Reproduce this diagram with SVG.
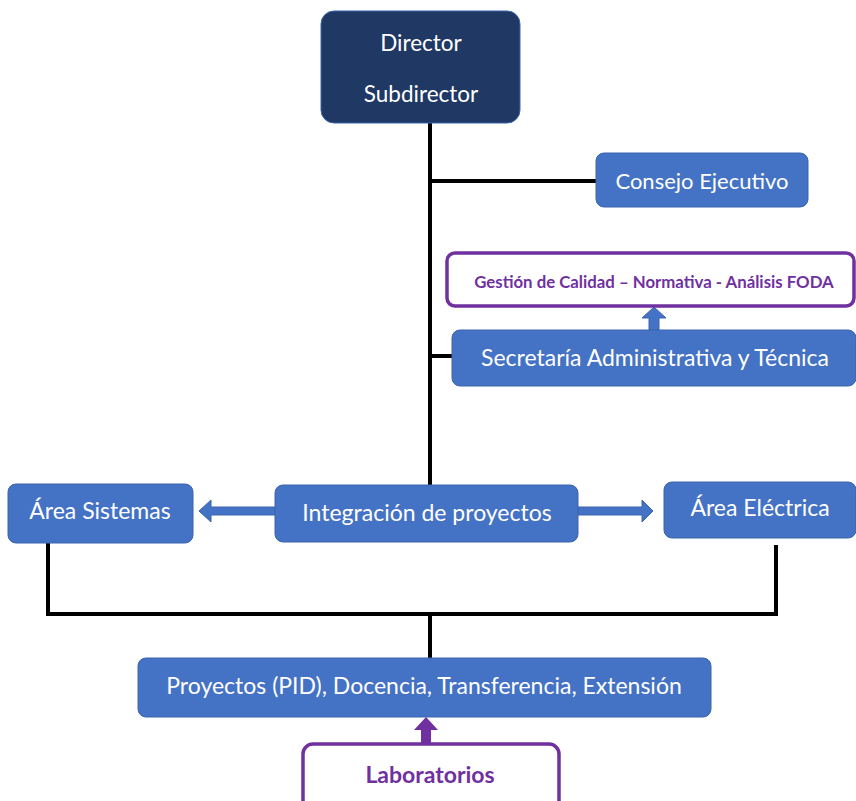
<svg xmlns="http://www.w3.org/2000/svg" width="856" height="801" viewBox="0 0 856 801">
<defs>
<style>
.box{fill:#4472C4;stroke:#3B64AD;stroke-width:1}
.dark{fill:#1F3864;stroke:#3B64AD;stroke-width:1}
.pbox{fill:#FFFFFF;stroke:#7030A0;stroke-width:3.5}
.t{font-family:Lato,"Open Sans",sans-serif;fill:#FFFFFF;text-anchor:middle;dominant-baseline:central;font-size:23px}
.pt{font-family:Lato,"Open Sans",sans-serif;fill:#7030A0;font-weight:bold;text-anchor:middle;dominant-baseline:central}
.ln{fill:none;stroke:#000000;stroke-width:4}
.barrow{fill:#4472C4;stroke:#3B64AD;stroke-width:1}
.parrow{fill:#7030A0}
</style>
</defs>
<rect width="856" height="801" fill="#FFFFFF"/>
<g id="connectors">
<path class="ln" d="M430,123 V485"/>
<path class="ln" d="M430,181 H596"/>
<path class="ln" d="M430,356 H452"/>
<path class="ln" d="M48,543 V614 H776 V545"/>
<path class="ln" d="M430,614 V658"/>
<path class="barrow" d="M649,330 V318 H642 L654,307 L666,318 H659 V330 Z"/>
<path class="barrow" d="M275,507 H211 V500 L199,511 L211,522 V515 H275 Z"/>
<path class="barrow" d="M578,507 H642 V500 L653,511 L642,522 V515 H578 Z"/>
<path class="parrow" d="M421,743 V730 H414 L426,717 L438,730 H431 V743 Z"/>
</g>
<g id="director">
<rect class="dark" x="321" y="11" width="199" height="112" rx="13"/>
<text class="t" x="421" y="42" style="font-size:22.5px">Director</text>
<text class="t" x="421" y="93" style="font-size:22.5px">Subdirector</text>
</g>
<g id="consejo">
<rect class="box" x="596" y="153" width="212" height="54" rx="8"/>
<text class="t" x="702" y="180" style="font-size:22px">Consejo Ejecutivo</text>
</g>
<g id="gestion">
<rect class="pbox" x="447" y="253" width="407" height="53" rx="8"/>
<text class="pt" x="654" y="281" font-size="16.8">Gestión de Calidad – Normativa - Análisis FODA</text>
</g>
<g id="secretaria">
<rect class="box" x="452" y="330" width="404" height="56" rx="8"/>
<text class="t" x="655" y="357">Secretaría Administrativa y Técnica</text>
</g>
<g id="integracion">
<rect class="box" x="275" y="485" width="303" height="57" rx="8"/>
<text class="t" x="427" y="512">Integración de proyectos</text>
</g>
<g id="sistemas">
<rect class="box" x="8" y="484" width="185" height="59" rx="8"/>
<text class="t" x="100" y="510">Área Sistemas</text>
</g>
<g id="electrica">
<rect class="box" x="664" y="482" width="192" height="56" rx="8"/>
<text class="t" x="760" y="507">Área Eléctrica</text>
</g>
<g id="proyectos">
<rect class="box" x="138" y="658" width="573" height="59" rx="8"/>
<text class="t" x="424" y="685">Proyectos (PID), Docencia, Transferencia, Extensión</text>
</g>
<g id="laboratorios">
<rect class="pbox" x="303" y="744" width="256" height="70" rx="10" stroke-width="4"/>
<text class="pt" x="430" y="774" font-size="23">Laboratorios</text>
</g>
</svg>
